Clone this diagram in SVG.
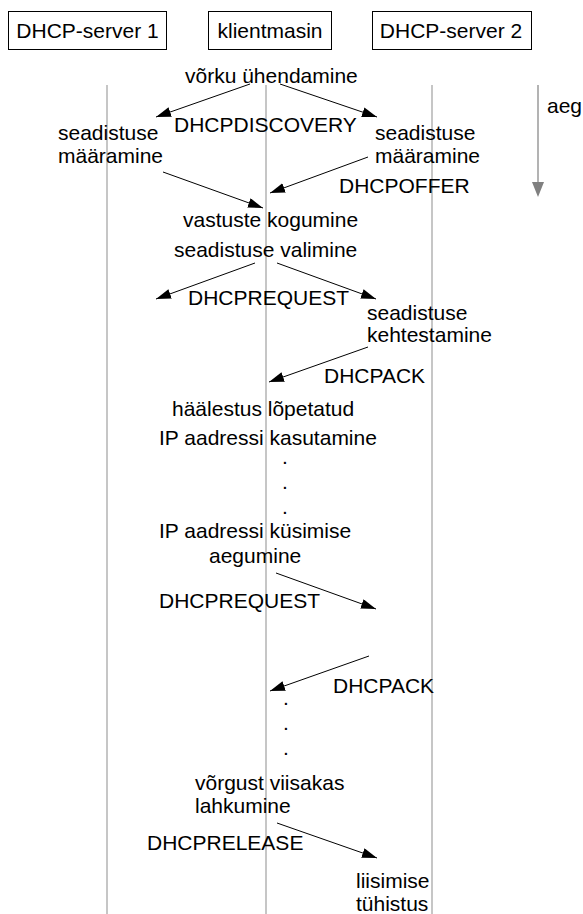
<svg xmlns="http://www.w3.org/2000/svg" width="583" height="914" viewBox="0 0 583 914">
  <style>
    text { font-family: "Liberation Sans", Arial, sans-serif; font-size: 21px; fill: #000; }
    .box rect { fill: #fff; stroke: #000; stroke-width: 1; }
    .box text { text-anchor: middle; }
    .life { stroke: #a0a0a0; stroke-width: 1.2; fill: none; }
    .msg { stroke: #000; stroke-width: 1; fill: none; marker-end: url(#head); }
    .time { stroke: #808080; stroke-width: 1.2; fill: none; }
  </style>
  <defs>
    <marker id="head" markerUnits="userSpaceOnUse" markerWidth="16" markerHeight="12" refX="15" refY="5" orient="auto">
      <path d="M0,0 L15,5 L0,10 Z" fill="#000"/>
    </marker>
  </defs>

  <!-- participants -->
  <g id="server1" class="box">
    <rect x="8.5" y="11.5" width="158" height="38"/>
    <text x="87.5" y="38">DHCP-server 1</text>
  </g>
  <g id="client" class="box">
    <rect x="208.5" y="11.5" width="123" height="38"/>
    <text x="270" y="38">klientmasin</text>
  </g>
  <g id="server2" class="box">
    <rect x="372.5" y="11.5" width="159" height="38"/>
    <text x="451" y="38">DHCP-server 2</text>
  </g>

  <!-- lifelines -->
  <g id="lifelines">
    <line class="life" x1="107" y1="85" x2="107" y2="914"/>
    <line class="life" x1="266" y1="85" x2="266" y2="914"/>
    <line class="life" x1="432" y1="85" x2="432" y2="914"/>
  </g>

  <!-- time axis -->
  <g id="time-axis">
    <line class="time" x1="538" y1="85" x2="538" y2="184"/>
    <path d="M532,182 L544,182 L538,197 Z" fill="#808080"/>
    <text x="547" y="113">aeg</text>
  </g>

  <!-- messages -->
  <g id="connectors">
    <line class="msg" x1="250" y1="84" x2="156" y2="117"/>
    <line class="msg" x1="280" y1="84" x2="377" y2="117"/>
    <line class="msg" x1="163" y1="172" x2="263" y2="208"/>
    <line class="msg" x1="368" y1="157" x2="270" y2="193"/>
    <line class="msg" x1="255" y1="263" x2="156" y2="299"/>
    <line class="msg" x1="277" y1="263" x2="376" y2="299"/>
    <line class="msg" x1="368" y1="347" x2="269" y2="382"/>
    <line class="msg" x1="276" y1="573" x2="376" y2="609"/>
    <line class="msg" x1="369" y1="656" x2="270" y2="691"/>
    <line class="msg" x1="277" y1="823" x2="377" y2="858"/>
  </g>

  <!-- labels -->
  <g id="labels">
    <text x="185" y="83">võrku ühendamine</text>
    <text x="174" y="132">DHCPDISCOVERY</text>
    <text x="58" y="140">seadistuse</text>
    <text x="58" y="163">määramine</text>
    <text x="375" y="140">seadistuse</text>
    <text x="375" y="163">määramine</text>
    <text x="339" y="193">DHCPOFFER</text>
    <text x="183" y="227">vastuste kogumine</text>
    <text x="174" y="257">seadistuse valimine</text>
    <text x="188" y="305">DHCPREQUEST</text>
    <text x="367" y="320">seadistuse</text>
    <text x="367" y="342">kehtestamine</text>
    <text x="324" y="383">DHCPACK</text>
    <text x="172" y="416">häälestus lõpetatud</text>
    <text x="159" y="445">IP aadressi kasutamine</text>
    <text x="282" y="464">.</text>
    <text x="282" y="489">.</text>
    <text x="282" y="514">.</text>
    <text x="159" y="538">IP aadressi küsimise</text>
    <text x="209" y="563">aegumine</text>
    <text x="159" y="608">DHCPREQUEST</text>
    <text x="333" y="693">DHCPACK</text>
    <text x="283" y="705">.</text>
    <text x="283" y="730">.</text>
    <text x="283" y="755">.</text>
    <text x="195" y="790">võrgust viisakas</text>
    <text x="195" y="813">lahkumine</text>
    <text x="147" y="850">DHCPRELEASE</text>
    <text x="356" y="888">liisimise</text>
    <text x="356" y="911">tühistus</text>
  </g>
</svg>
